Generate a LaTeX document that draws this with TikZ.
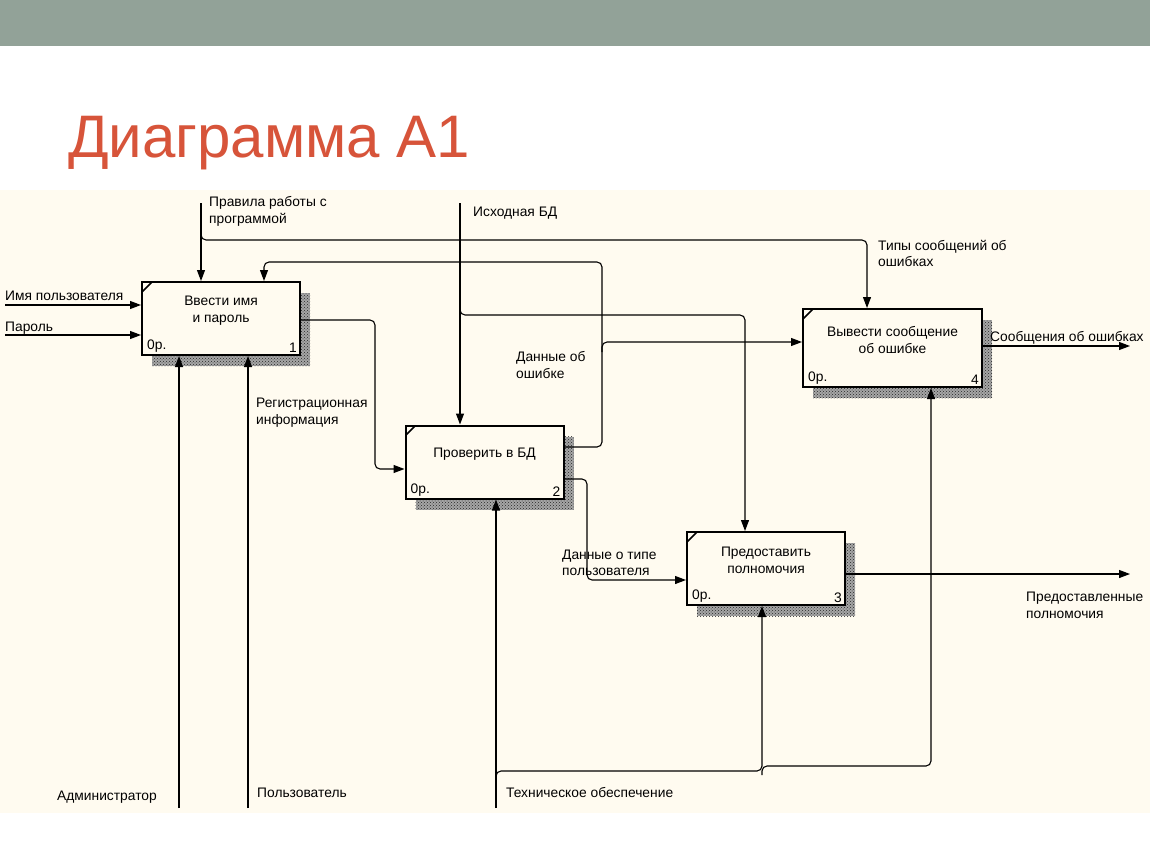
\documentclass[tikz,border=0pt]{standalone}
\usepackage{fontspec}
\setmainfont{Liberation Sans}
\usetikzlibrary{arrows.meta,positioning,shadows,patterns}

\definecolor{topbar}{RGB}{146,162,152}
\definecolor{panel}{RGB}{255,251,240}
\definecolor{titlered}{RGB}{215,84,58}

\tikzset{
  func/.style={draw, line width=2pt, fill=panel, minimum width=158pt, minimum height=73pt, inner sep=0pt,
    general shadow={shadow xshift=10pt, shadow yshift=-11pt, fill=black!35},
    general shadow={shadow xshift=10pt, shadow yshift=-11pt, pattern=crosshatch dots, pattern color=black!85},
    path picture={\draw[line width=1.6pt] ([yshift=-10pt]path picture bounding box.north west) -- ([xshift=10pt]path picture bounding box.north west);}},
  ftext/.style={anchor=center, align=center, yshift=8pt},
  cost/.style={anchor=south west, inner sep=3pt, xshift=3pt},
  num/.style={anchor=south east, inner sep=3pt, xshift=-1pt},
  lbl/.style={anchor=base west, align=left, inner sep=0pt},
  flow/.style={line width=1.1pt, rounded corners=5pt, -{Triangle[length=11pt,width=8pt]}},
}

\begin{document}
\begin{tikzpicture}[x=1pt,y=-1pt]
  \fontsize{13.8}{16.5}\selectfont
  % slide background
  \fill[white] (0,0) rectangle (1150,864);
  \fill[topbar] (0,0) rectangle (1150,46);
  \fill[panel] (0,190) rectangle (1150,813);
  \node[anchor=base west, inner sep=0pt, text=titlered, font=\fontsize{60}{70}\selectfont] (titel) at (68,157) {Диаграмма А1};

  % functions
  \node[func, label={[ftext]center:Ввести имя\\и пароль}, label={[cost]south west:0р.}, label={[num]south east:1}] (vvod) at (221,318.5) {};
  \node[func, label={[ftext]center:Проверить в БД}, label={[cost]south west:0р.}, label={[num]south east:2}] (proverka) at (484.5,462) {};
  \node[func, label={[ftext]center:Предоставить\\полномочия}, label={[cost]south west:0р.}, label={[num]south east:3}] (polnom) at (766,568.5) {};
  \node[func, minimum width=179pt, minimum height=78pt, label={[ftext]center:Вывести сообщение\\об ошибке}, label={[cost]south west:0р.}, label={[num]south east:4}] (soobsh) at (892.5,348) {};

  % free ends and bends
  \coordinate (imya) at (5,305);
  \coordinate (parol) at (5,335);
  \coordinate (pravila) at (201,203);
  \coordinate (pravilaB) at (201,230);
  \coordinate (tipy) at (867,240);
  \coordinate (ishod) at (460,203);
  \coordinate (ishodB) at (460,305);
  \coordinate (isx) at (745,315);
  \coordinate (oshib) at (602,262);
  \coordinate (oshibB) at (602,352);
  \coordinate (regx) at (375,400);
  \coordinate (tipx) at (587,530);
  \coordinate (vyhod3) at (1130,574);
  \coordinate (vyhod4) at (1130,346);
  \coordinate (admin) at (179,808);
  \coordinate (polz) at (248,808);
  \coordinate (tech) at (496,808);
  \coordinate (techB) at (496,780);
  \coordinate (tech3) at (762,771);
  \coordinate (tech3B) at (762,775);
  \coordinate (tech4) at (931,766);

  % inputs and controls
  \draw[flow] (imya) -- (imya -| vvod.west);
  \draw[flow] (parol) -- (parol -| vvod.west);
  \draw[flow] (pravila) -- (pravila |- vvod.north);
  \draw[flow] (pravilaB) |- (tipy) -- (tipy |- soobsh.north);
  \draw[flow] (ishod) -- (ishod |- proverka.north);
  \draw[flow] (ishodB) |- (isx) -- (isx |- polnom.north);

  % links between functions
  \draw[flow] ([yshift=15pt]proverka.east) -| (oshib) -| ([xshift=43pt]vvod.north);
  \draw[flow] (oshibB) |- ([yshift=6pt]soobsh.west);
  \draw[flow] ([yshift=-1.5pt]vvod.east) -| (regx) |- ([yshift=-7pt]proverka.west);
  \draw[flow] ([yshift=-17pt]proverka.east) -| (tipx) |- ([yshift=-11.5pt]polnom.west);

  % outputs
  \draw[flow] ([yshift=-5.5pt]polnom.east) -- (vyhod3);
  \draw[flow] ([yshift=2pt]soobsh.east) -- (vyhod4);

  % mechanisms
  \draw[flow] (admin) -- (admin |- vvod.south);
  \draw[flow] (polz) -- (polz |- vvod.south);
  \draw[flow] (tech) -- (tech |- proverka.south);
  \draw[flow] (techB) |- (tech3) -- (tech3 |- polnom.south);
  \draw[flow] (tech3B) |- (tech4) -- (tech4 |- soobsh.south);

  % arrow labels (two-line ones sit on their last line)
  \node[lbl] (imyaT) at (5,300) {Имя пользователя};
  \node[lbl] (parolT) at (5,331) {Пароль};
  \node[lbl] (pravilaT) at (209,223) {Правила работы с\\программой};
  \node[lbl] (ishodT) at (473,216.5) {Исходная БД};
  \node[lbl] (tipyT) at (878,266.5) {Типы сообщений об\\ошибках};
  \node[lbl] (oshibT) at (516,378) {Данные об\\ошибке};
  \node[lbl] (regT) at (256,424) {Регистрационная\\информация};
  \node[lbl] (tipT) at (562,575.5) {Данные о типе\\пользователя};
  \node[lbl] (vyhod3T) at (1026,618) {Предоставленные\\полномочия};
  \node[lbl] (vyhod4T) at (990,341.5) {Сообщения об ошибках};
  \node[lbl] (adminT) at (57,800) {Администратор};
  \node[lbl] (polzT) at (257,797) {Пользователь};
  \node[lbl] (techT) at (506,797) {Техническое обеспечение};
\end{tikzpicture}
\end{document}
